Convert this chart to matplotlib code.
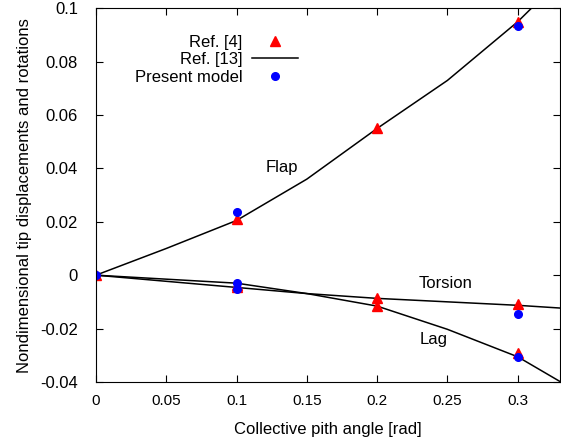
import matplotlib
matplotlib.use("Agg")
import matplotlib.pyplot as plt

plt.rcParams['font.family'] = ['Liberation Sans', 'DejaVu Sans']
plt.rcParams['font.size'] = 12

# Ref. [13] curves
x_line = [0, 0.05, 0.1, 0.15, 0.2, 0.25, 0.3, 0.35]
flap_line = [0, 0.010, 0.0205, 0.036, 0.055, 0.073, 0.095, 0.121]
lag_line = [0, -0.0015, -0.0030, -0.0069, -0.0116, -0.0203, -0.0306, -0.046]
torsion_line = [0, -0.0023, -0.0046, -0.0069, -0.0087, -0.0100, -0.0113, -0.0130]

# Ref. [4] points
x_ref4 = [0, 0.1, 0.1, 0.1, 0.2, 0.2, 0.2, 0.3, 0.3, 0.3]
y_ref4 = [0, 0.0210, -0.0036, -0.0046, 0.055, -0.0084, -0.0116, 0.095, -0.0109, -0.0291]

# Present model points
x_model = [0, 0.1, 0.1, 0.1, 0.3, 0.3, 0.3]
y_model = [0, 0.0235, -0.0029, -0.0053, 0.0934, -0.0146, -0.0306]

fig = plt.figure(figsize=(5.61, 4.43), dpi=100)
ax = fig.add_axes([0.171, 0.138, 0.827, 0.843])

ax.plot(x_line, flap_line, color='black', linewidth=1.1, label='Ref. [13]')
ax.plot(x_line, lag_line, color='black', linewidth=1.1)
ax.plot(x_line, torsion_line, color='black', linewidth=1.1)
ax.plot(x_ref4, y_ref4, linestyle='none', marker='^', color='red', markersize=7, label='Ref. [4]')
ax.plot(x_model, y_model, linestyle='none', marker='o', color='blue', markersize=5.5, label='Present model')

ax.text(0.132, 0.0405, 'Flap', ha='center', va='center')
ax.text(0.249, -0.003, 'Torsion', ha='center', va='center')
ax.text(0.240, -0.024, 'Lag', ha='center', va='center')

ax.set_xlim(0, 0.33)
ax.set_ylim(-0.04, 0.1)
ax.set_xticks([0, 0.05, 0.1, 0.15, 0.2, 0.25, 0.3])
ax.set_xticklabels(['0', '0.05', '0.1', '0.15', '0.2', '0.25', '0.3'])
ax.set_yticks([-0.04, -0.02, 0, 0.02, 0.04, 0.06, 0.08, 0.1])
ax.set_yticklabels(['-0.04', '-0.02', '0', '0.02', '0.04', '0.06', '0.08', '0.1'])
ax.tick_params(direction='in', top=True, right=True, length=5)
ax.tick_params(axis='x', pad=9, labelsize=11)
ax.tick_params(axis='y', pad=13, labelsize=12)
ax.set_xlabel('Collective pith angle [rad]', labelpad=10)
ax.set_ylabel('Nondimensional tip displacements and rotations', labelpad=6)

h, l = ax.get_legend_handles_labels()
order = [1, 0, 2]
ax.legend([h[i] for i in order], [l[i] for i in order], frameon=False, markerfirst=False,
          loc='upper right', bbox_to_anchor=(0.435, 0.93), borderpad=0, borderaxespad=0,
          labelspacing=0.15, handletextpad=0.55, handlelength=2.75)

fig.savefig('out.png', dpi=100)
